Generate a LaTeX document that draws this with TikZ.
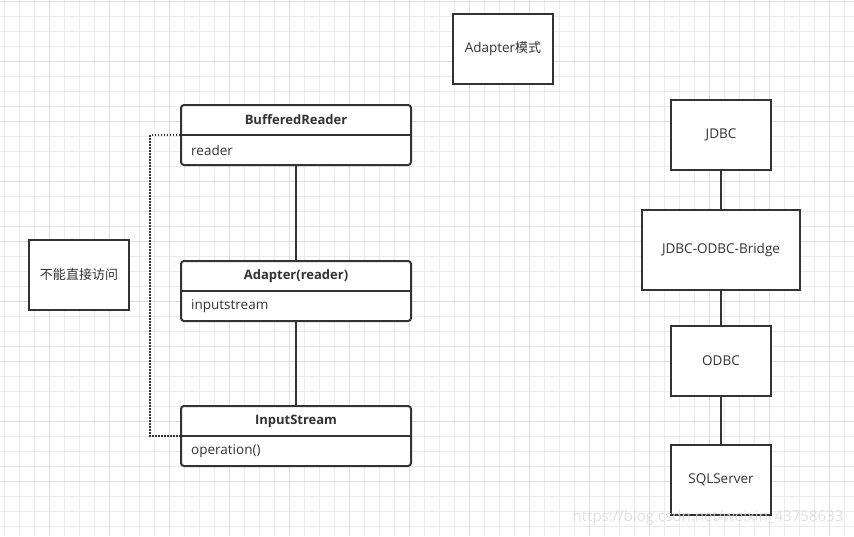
\documentclass[tikz,border=0pt]{standalone}
\usepackage{fontspec}
\setmainfont{Open Sans}
\newfontfamily\cjk[Scale=0.963]{Noto Sans CJK SC}
\definecolor{ink}{HTML}{333333}
\definecolor{gridminor}{HTML}{EBEBEB}
\definecolor{gridmajor}{HTML}{DDDDDD}
\begin{document}
\begin{tikzpicture}[x=1pt,y=-1pt,
  plainbox/.style={draw=ink, line width=2pt, fill=white, minimum width=100pt, minimum height=70pt, inner sep=0pt, text=ink, font=\fontsize{13.5}{15}\selectfont},
  umlbox/.style={draw=ink, line width=2pt, fill=white, rounded corners=3pt, minimum width=230pt, minimum height=60pt, inner sep=0pt},
  umltitle/.style={text=ink, font=\bfseries\fontsize{13}{15}\selectfont, inner sep=0pt},
  umlattr/.style={text=ink, font=\fontsize{13.5}{15}\selectfont, inner sep=0pt, anchor=west},
  conn/.style={draw=ink, line width=2pt},
  dotconn/.style={draw=ink, line width=2pt, dash pattern=on 1.5pt off 1.5pt},
  minorline/.style={draw=gridminor, line width=0.8pt},
  majorline/.style={draw=gridmajor, line width=0.8pt}]
\useasboundingbox (0,0) rectangle (854,536);
\fill[white] (0,0) rectangle (854,536);
% grid
\foreach \gx in {4,19,...,854} {\draw[minorline] (\gx,0) -- (\gx,536);}
\foreach \gy in {1,16,...,536} {\draw[minorline] (0,\gy) -- (854,\gy);}
\foreach \gx in {49,109,...,854} {\draw[majorline] (\gx,0) -- (\gx,536);}
\foreach \gy in {1,61,...,536} {\draw[majorline] (0,\gy) -- (854,\gy);}

% title box
\node[plainbox] (mode) at (503,49) {Adapter{\cjk 模式}};
\node[plainbox] (noaccess) at (79,275) {\cjk 不能直接访问};

% UML class boxes
\node[umlbox] (br) at (296,135) {};
\draw[conn] (br.west) -- (br.east);
\node[umltitle] (brt) at (296,120) {BufferedReader};
\node[umlattr] (bra) at (191,150) {reader};

\node[umlbox] (ad) at (296,291) {};
\draw[conn] (ad.west) -- (ad.east);
\node[umltitle] (adt) at (296,276) {Adapter(reader)};
\node[umlattr] (ada) at (191,306) {inputstream};

\node[umlbox] (is) at (296,436) {};
\draw[conn] (is.west) -- (is.east);
\node[umltitle] (ist) at (296,421) {InputStream};
\node[umlattr] (isa) at (191,451) {operation()};

\draw[conn] (br.south) -- (ad.north);
\draw[conn] (ad.south) -- (is.north);
\draw[dotconn] (br.west) -- ++(-30,0) |- (is.west);

% right chain
\node[plainbox] (jdbc) at (721,135) {JDBC};
\node[plainbox, minimum width=158pt, minimum height=80pt] (bridge) at (721,250) {JDBC-ODBC-Bridge};
\node[plainbox] (odbc) at (721,361) {ODBC};
\node[plainbox] (sql) at (721,479.5) {SQLServer};
\draw[conn] (jdbc.south) -- (bridge.north);
\draw[conn] (bridge.south) -- (odbc.north);
\draw[conn] (odbc.south) -- (sql.north);

% watermark
\node[text=gray!30, opacity=0.8, font=\fontsize{15}{17}\selectfont, inner sep=0pt] (wm) at (708,518) {https://blog.csdn.net/weixin\_43758633};
\end{tikzpicture}
\end{document}
